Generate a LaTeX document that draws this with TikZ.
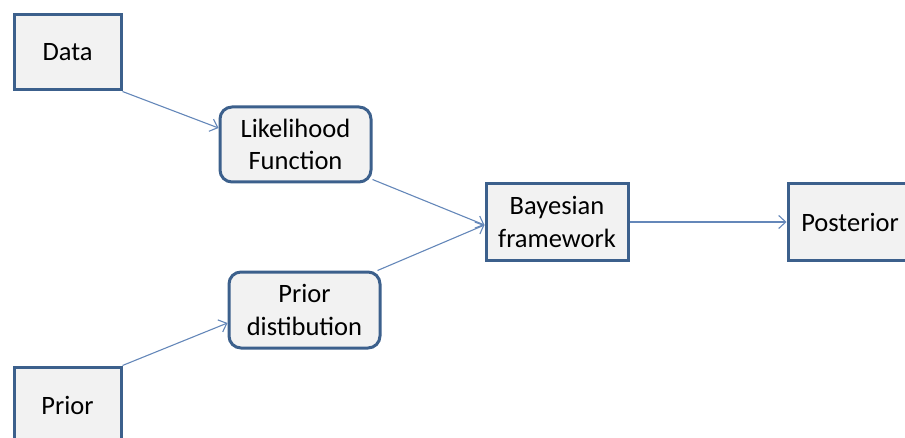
\documentclass[tikz,border=0pt]{standalone}
\usepackage{fontspec}
\setmainfont{Carlito}
\usetikzlibrary{arrows.meta}
\definecolor{boxline}{RGB}{60,96,140}
\definecolor{boxfill}{RGB}{242,242,242}
\definecolor{arrowline}{RGB}{100,135,185}
\begin{document}
\begin{tikzpicture}[x=1pt,y=1pt,
  plainbox/.style={draw=boxline,fill=boxfill,line width=3pt,inner sep=0pt,
    align=center,font=\fontsize{26.5}{32.5}\selectfont},
  roundbox/.style={plainbox,rounded corners=12pt},
  flow/.style={draw=arrowline,line width=1.1pt,-{Straight Barb[length=7pt,width=13pt]}}]
\useasboundingbox (0,0) rectangle (905,437);
\begin{scope}
\clip (0,0) rectangle (905,437);

\node[plainbox,minimum width=107pt,minimum height=75pt] (data) at (67.5,384.5) {Data};
\node[roundbox,minimum width=151pt,minimum height=75pt] (lik) at (295.5,292.5) {Likelihood\\Function};
\node[roundbox,minimum width=151pt,minimum height=76pt] (pd) at (304.5,127) {Prior\\distibution};
\node[plainbox,minimum width=107pt,minimum height=76pt] (prior) at (67.5,32) {Prior};
\node[plainbox,minimum width=142pt,minimum height=76pt] (bayes) at (557,215) {Bayesian\\framework};
\node[plainbox,minimum width=124pt,minimum height=76pt] (post) at (850,215) {Posterior};

\draw[flow] (data.south east) -- ([yshift=16.5pt]lik.west);
\draw[flow] ([yshift=4pt]lik.south east) -- ([yshift=-3pt]bayes.west);
\draw[flow] ([xshift=-4pt]pd.north east) -- ([yshift=-3pt]bayes.west);
\draw[flow] (prior.north east) -- ([yshift=-13pt]pd.west);
\draw[flow] (bayes.east) -- (post.west);
\end{scope}
\end{tikzpicture}
\end{document}
